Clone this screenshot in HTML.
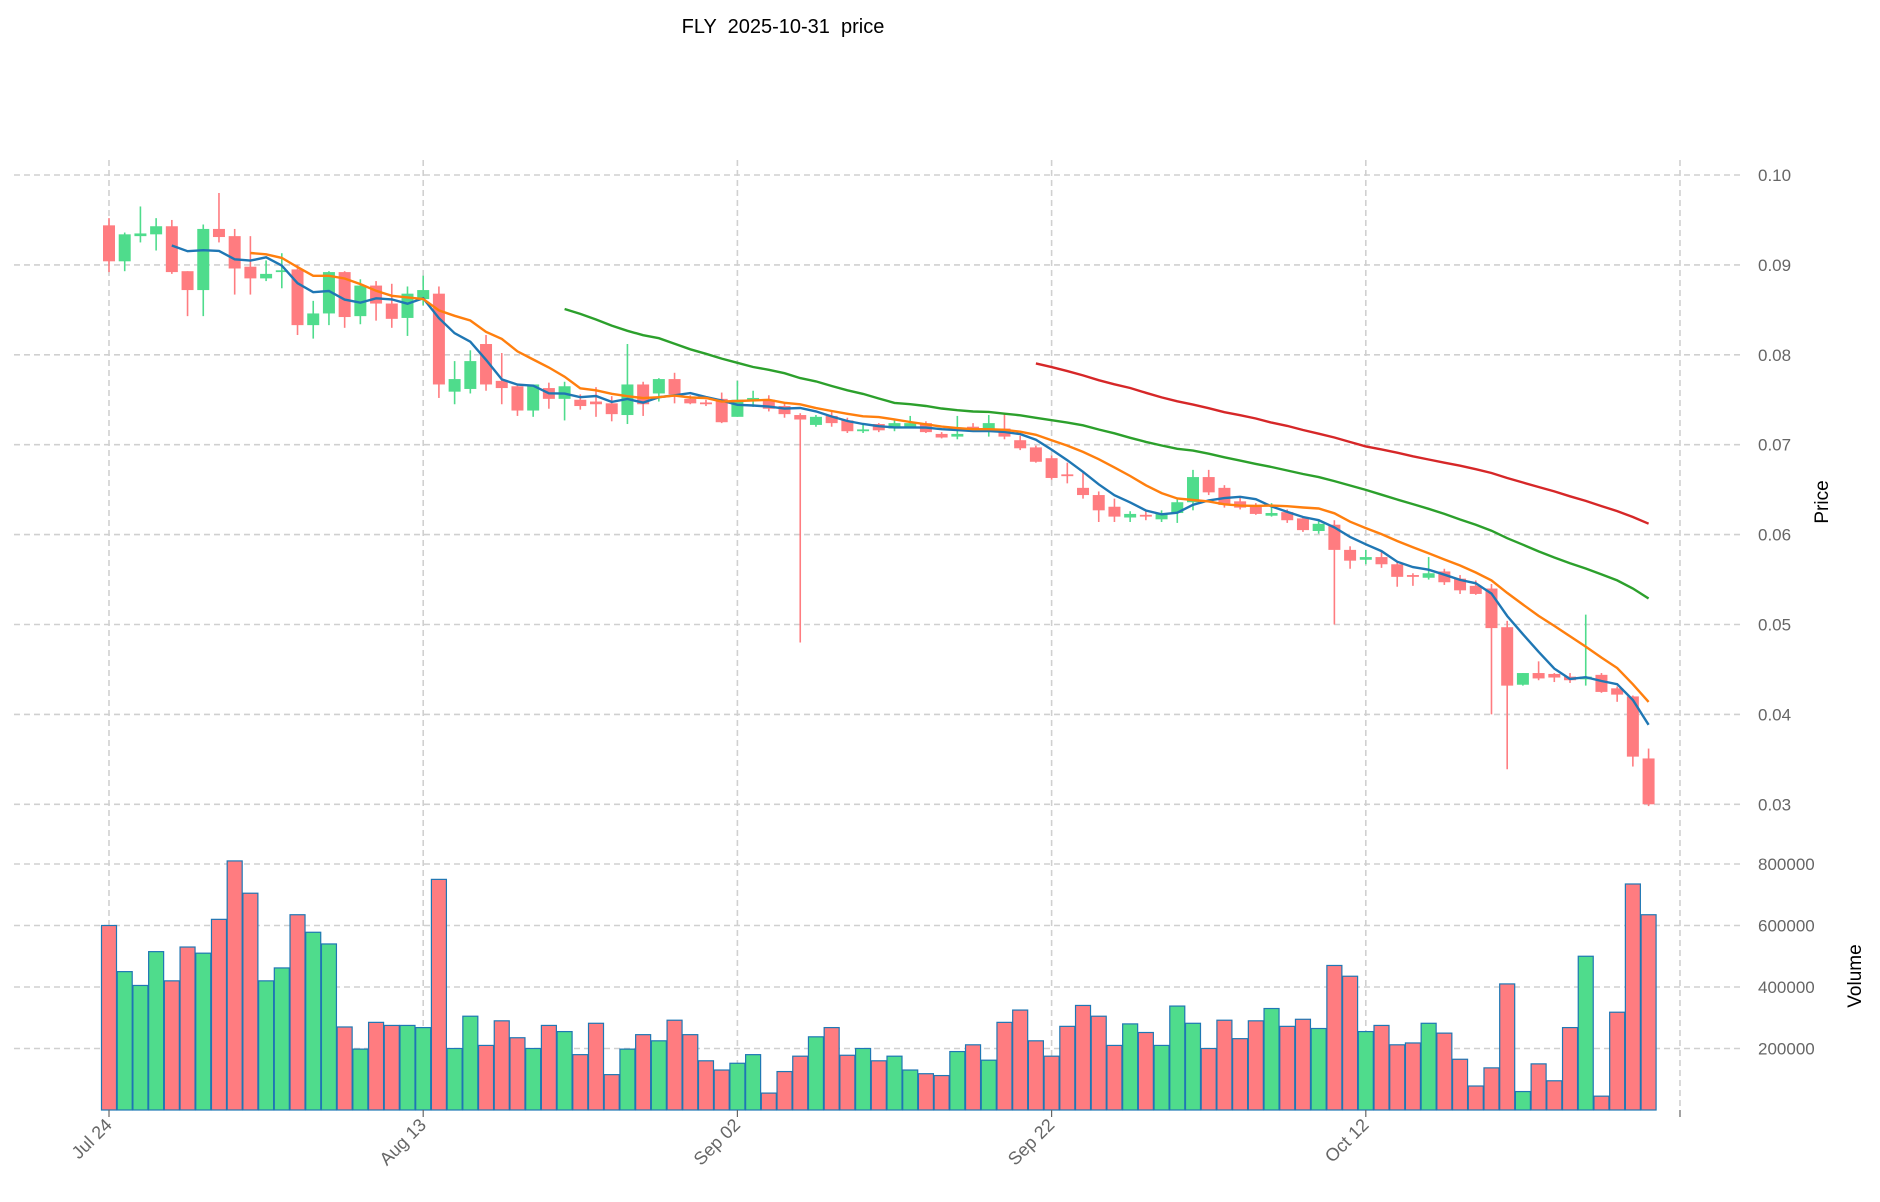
<!DOCTYPE html>
<html><head><meta charset="utf-8"><style>
html,body{margin:0;padding:0;background:#fff;}
svg{display:block;font-family:"Liberation Sans","DejaVu Sans",sans-serif;}
</style></head><body>
<svg id="chart" width="1880" height="1202" viewBox="0 0 1880 1202">
<text x="783" y="33" font-size="20" text-anchor="middle" fill="#000" style="white-space:pre" xml:space="preserve">FLY  2025-10-31  price</text>
<g id="grid"></g><g id="vol"></g><g id="candles"></g><g id="ma"></g><g id="axes"></g>
<text transform="translate(1828,502) rotate(-90)" font-size="19" text-anchor="middle" fill="#000">Price</text>
<text transform="translate(1861,976) rotate(-90)" font-size="19" text-anchor="middle" fill="#000">Volume</text>
</svg>
<script>
const opens=[.0944,.0904,.0932,.0934,.0943,.0893,.0872,.0940,.0932,.0898,.0885,.0892,.0895,.0833,.0846,.0892,.0843,.0877,.0857,.0841,.0862,.0868,.0759,.0762,.0812,.0771,.0765,.0738,.0763,.0751,.0750,.0748,.0746,.0733,.0767,.0757,.0773,.0751,.0747,.0751,.0731,.0749,.0750,.0743,.0733,.0722,.0732,.0727,.0715,.0723,.0718,.0720,.0724,.0712,.0709,.0720,.0718,.0718,.0705,.0697,.0685,.0667,.0652,.0644,.0631,.0619,.0622,.0617,.0624,.0636,.0664,.0652,.0637,.0633,.0621,.0625,.0618,.0604,.0611,.0583,.0572,.0575,.0567,.0555,.0552,.0559,.0551,.0543,.0540,.0497,.0433,.0446,.0445,.0442,.0439,.0444,.0429,.0420,.0351];
const highs=[.0952,.0936,.0965,.0952,.0950,.0893,.0945,.0980,.0940,.0932,.0905,.0913,.0900,.0860,.0893,.0893,.0884,.0882,.0879,.0876,.0888,.0876,.0793,.0805,.0822,.0802,.0767,.0767,.0769,.0770,.0756,.0764,.0754,.0812,.0770,.0774,.0780,.0755,.0750,.0758,.0771,.0760,.0755,.0747,.0735,.0733,.0737,.0730,.0724,.0724,.0727,.0732,.0726,.0714,.0732,.0724,.0733,.0734,.0710,.0699,.0688,.0680,.0670,.0648,.0640,.0626,.0627,.0627,.0640,.0672,.0672,.0655,.0641,.0635,.0635,.0628,.0620,.0615,.0616,.0587,.0583,.0581,.0570,.0557,.0575,.0562,.0555,.0549,.0545,.0504,.0446,.0459,.0446,.0446,.0511,.0446,.0431,.0421,.0362];
const lows=[.0892,.0893,.0925,.0916,.0890,.0843,.0843,.0925,.0867,.0867,.0882,.0874,.0822,.0818,.0833,.0830,.0834,.0838,.0830,.0821,.0855,.0752,.0745,.0757,.0760,.0745,.0732,.0731,.0740,.0727,.0739,.0731,.0726,.0723,.0732,.0748,.0746,.0745,.0743,.0724,.0731,.0742,.0737,.0730,.0480,.0720,.0720,.0713,.0713,.0714,.0715,.0718,.0713,.0707,.0706,.0716,.0709,.0706,.0694,.0680,.0661,.0657,.0640,.0614,.0614,.0614,.0616,.0614,.0613,.0627,.0644,.0630,.0628,.0622,.0620,.0613,.0603,.0601,.0500,.0562,.0567,.0563,.0542,.0543,.0550,.0544,.0534,.0533,.0400,.0339,.0432,.0438,.0436,.0435,.0432,.0424,.0414,.0342,.0298];
const closes=[.0904,.0934,.0935,.0943,.0892,.0872,.0940,.0931,.0896,.0885,.0890,.0894,.0833,.0846,.0892,.0842,.0877,.0857,.0840,.0868,.0872,.0767,.0773,.0793,.0767,.0763,.0738,.0767,.0751,.0765,.0743,.0745,.0734,.0767,.0745,.0773,.0756,.0746,.0745,.0725,.0750,.0752,.0740,.0734,.0728,.0731,.0724,.0715,.0717,.0716,.0724,.0724,.0714,.0708,.0712,.0718,.0724,.0709,.0696,.0681,.0663,.0665,.0644,.0627,.0620,.0623,.0620,.0623,.0636,.0664,.0647,.0633,.0630,.0623,.0624,.0616,.0605,.0612,.0583,.0571,.0575,.0567,.0553,.0553,.0557,.0547,.0538,.0534,.0496,.0432,.0446,.0440,.0441,.0438,.0442,.0425,.0422,.0353,.0300];
const volumes=[600000,450000,405000,515000,420000,530000,510000,620000,810000,705000,420000,462000,635000,578000,540000,270000,198000,285000,275000,275000,268000,750000,200000,305000,210000,290000,235000,200000,275000,255000,180000,282000,115000,198000,245000,225000,292000,245000,160000,130000,152000,180000,55000,125000,175000,238000,268000,178000,200000,160000,175000,130000,118000,112000,190000,212000,162000,285000,325000,225000,175000,272000,340000,305000,210000,280000,252000,210000,338000,282000,200000,292000,232000,290000,330000,272000,295000,265000,470000,435000,255000,275000,212000,218000,282000,250000,165000,78000,137000,410000,60000,150000,95000,268000,500000,45000,318000,735000,635000];
const dateLabels=["Jul 24","Aug 13","Sep 02","Sep 22","Oct 12",""];
const dateTickIdx=[0,20,40,60,80,100];
const priceTicks=[0.03,0.04,0.05,0.06,0.07,0.08,0.09,0.10];
const volTicks=[200000,400000,600000,800000];
const maWindows=[5,10,30,60];
const maColors=["#1f77b4","#ff7f0e","#2ca02c","#d62728"];

const NS="http://www.w3.org/2000/svg";
const L=14,R=1741;
const xS=i=>109+15.71*i;
const yP=p=>175+(0.10-p)*8990;
const yV=v=>1110-v*(61.5/200000);
function mk(tag,attrs,parent){const e=document.createElementNS(NS,tag);for(const k in attrs)e.setAttribute(k,attrs[k]);document.getElementById(parent).appendChild(e);return e;}
priceTicks.forEach(p=>{
 const g=mk('line',{x1:L,x2:R,y1:yP(p),y2:yP(p),stroke:'#d0d0d0','stroke-width':1.6,'stroke-dasharray':'6,4'},'grid');
 
 
 const t=mk('text',{x:1758,y:yP(p)+6,'font-size':17,fill:'#666'},'axes');t.textContent=p.toFixed(2);
 
 
});
volTicks.forEach(v=>{
 const g=mk('line',{x1:L,x2:R,y1:yV(v),y2:yV(v),stroke:'#d0d0d0','stroke-width':1.6,'stroke-dasharray':'6,4'},'grid');
 
 
 const t=mk('text',{x:1758,y:yV(v)+6,'font-size':17,fill:'#666'},'axes');t.textContent=String(v);
 
 
});
dateTickIdx.forEach((d,k)=>{
 const x=xS(d);
 const g=mk('line',{x1:x,x2:x,y1:160,y2:1110,stroke:'#d0d0d0','stroke-width':1.6,'stroke-dasharray':'6,4'},'grid');
 
 
 const tk=mk('line',{x1:x,x2:x,y1:1110,y2:1117,stroke:'#666','stroke-width':1.2},'axes');
 
 
 if(dateLabels[k]){const t=mk('text',{x:x+4,y:1126,'font-size':18,fill:'#666','text-anchor':'end',transform:`rotate(-45 ${x+4} 1126)`},'axes');t.textContent=dateLabels[k];
 
 }
});
volumes.forEach((v,i)=>{
 const up=closes[i]>=opens[i];
 const b=mk('rect',{x:xS(i)-7.5,y:yV(v),width:15,height:1110-yV(v),fill:up?'#4fdc8c':'#ff7c80',stroke:'#1f77b4','stroke-width':1.2},'vol');
 
 
});
opens.forEach((o,i)=>{
 const c=closes[i],up=c>=o,col=up?'#4fdc8c':'#ff7c80',x=xS(i);
 const w=mk('line',{x1:x,x2:x,y1:yP(highs[i]),y2:yP(lows[i]),stroke:col,'stroke-width':1.6},'candles');
 
 
 const top=yP(Math.max(o,c)),h=Math.max(1.5,Math.abs(yP(o)-yP(c)));
 const b=mk('rect',{x:x-6,y:top,width:12,height:h,fill:col},'candles');
 
 
});
maWindows.forEach((w,k)=>{
 const pts=[];
 for(let i=w-1;i<closes.length;i++){let s=0;for(let j=i-w+1;j<=i;j++)s+=closes[j];pts.push(xS(i).toFixed(1)+','+yP(s/w).toFixed(1));}
 const p=mk('polyline',{points:pts.join(' '),fill:'none',stroke:maColors[k],'stroke-width':2.4},'ma');
 
 
});
</script>
</body></html>
